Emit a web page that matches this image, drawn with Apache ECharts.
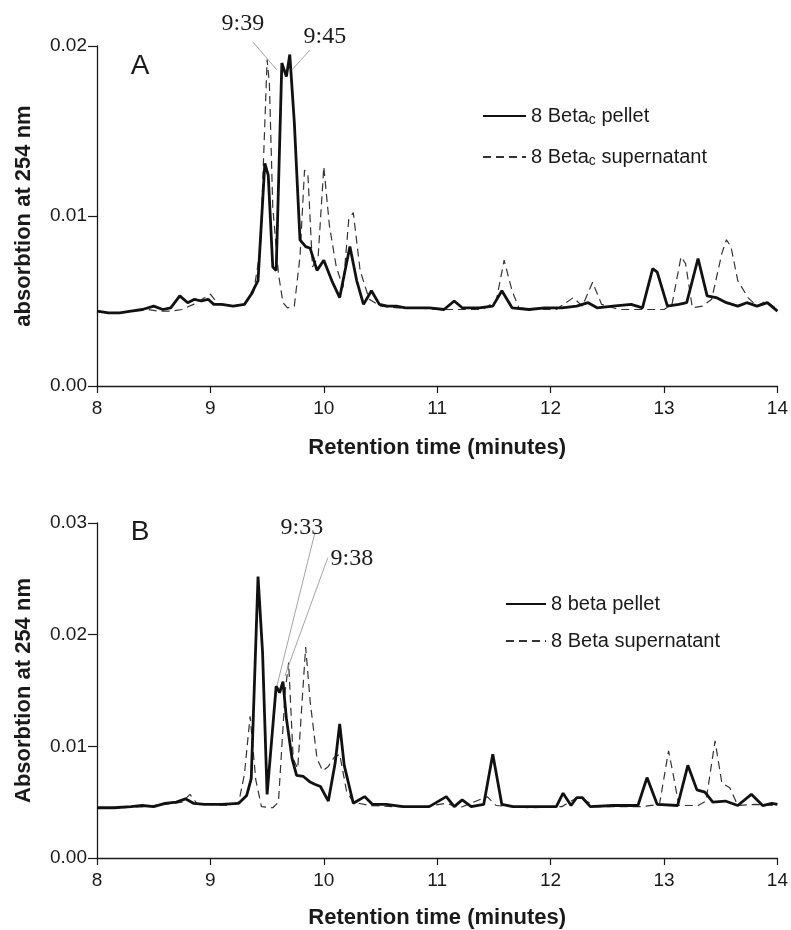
<!DOCTYPE html>
<html>
<head>
<meta charset="utf-8">
<script src="https://cdn.jsdelivr.net/npm/echarts@6/dist/echarts.min.js"></script>
<style>
html,body{margin:0;padding:0;background:#fff;}
#chart{width:791px;height:930px;}
</style>
</head>
<body>
<div id="chart"></div>
<script>
// ---- Data (retention time in minutes, absorbance) ----
const xTicks = [8, 9, 10, 11, 12, 13, 14];
const yTicksA = [0.00, 0.01, 0.02];
const yTicksB = [0.00, 0.01, 0.02, 0.03];

const aPelletT = [8.00,8.10,8.20,8.30,8.40,8.50,8.58,8.65,8.73,8.80,8.86,8.92,8.98,9.03,9.10,9.20,9.30,9.36,9.42,9.48,9.51,9.55,9.58,9.63,9.67,9.70,9.74,9.79,9.84,9.88,9.94,10.00,10.07,10.14,10.23,10.29,10.35,10.42,10.49,10.56,10.64,10.72,10.80,10.93,11.06,11.15,11.22,11.37,11.49,11.57,11.66,11.81,11.95,12.10,12.23,12.33,12.41,12.55,12.71,12.81,12.90,12.94,13.03,13.13,13.20,13.30,13.38,13.46,13.55,13.65,13.73,13.82,13.91,14.00];
const aPelletV = [0.0044,0.0043,0.0043,0.0044,0.0045,0.0047,0.0045,0.0046,0.0053,0.0049,0.0051,0.0050,0.0051,0.0048,0.0048,0.0047,0.0048,0.0054,0.0062,0.0131,0.0124,0.0070,0.0068,0.0190,0.0182,0.0195,0.0155,0.0086,0.0082,0.0081,0.0068,0.0074,0.0062,0.0052,0.0082,0.0062,0.0048,0.0056,0.0048,0.0047,0.0047,0.0046,0.0046,0.0046,0.0045,0.0050,0.0046,0.0046,0.0047,0.0056,0.0046,0.0045,0.0046,0.0046,0.0047,0.0049,0.0046,0.0047,0.0048,0.0046,0.0069,0.0067,0.0047,0.0048,0.0049,0.0075,0.0053,0.0052,0.0049,0.0047,0.0049,0.0047,0.0049,0.0044];

const aSuperT = [8.00,8.15,8.30,8.45,8.55,8.65,8.75,8.85,9.00,9.07,9.20,9.30,9.38,9.44,9.50,9.52,9.55,9.60,9.64,9.68,9.74,9.79,9.83,9.86,9.90,9.95,10.00,10.05,10.11,10.17,10.22,10.26,10.32,10.40,10.50,10.65,10.80,11.00,11.20,11.40,11.52,11.59,11.66,11.72,11.90,12.05,12.20,12.28,12.37,12.45,12.60,12.80,13.00,13.07,13.15,13.19,13.25,13.34,13.42,13.51,13.55,13.59,13.65,13.74,13.82,13.90,14.00];
const aSuperV = [0.0044,0.0043,0.0044,0.0045,0.0044,0.0044,0.0045,0.0048,0.0054,0.0048,0.0047,0.0048,0.0055,0.0080,0.0192,0.0178,0.0105,0.0066,0.0049,0.0046,0.0047,0.0076,0.0127,0.0124,0.0070,0.0076,0.0129,0.0094,0.0070,0.0058,0.0098,0.0102,0.0068,0.0051,0.0047,0.0046,0.0046,0.0045,0.0045,0.0045,0.0050,0.0074,0.0056,0.0046,0.0045,0.0045,0.0052,0.0047,0.0061,0.0048,0.0045,0.0045,0.0045,0.0048,0.0076,0.0072,0.0046,0.0047,0.0051,0.0078,0.0086,0.0082,0.0062,0.0052,0.0047,0.0050,0.0045];

const bPelletT = [8.00,8.15,8.30,8.40,8.50,8.60,8.70,8.78,8.85,8.95,9.10,9.25,9.32,9.36,9.42,9.46,9.50,9.58,9.61,9.64,9.67,9.72,9.76,9.82,9.88,9.92,9.97,10.04,10.10,10.14,10.18,10.26,10.36,10.43,10.55,10.70,10.93,11.08,11.15,11.22,11.30,11.41,11.49,11.57,11.67,12.05,12.11,12.18,12.23,12.28,12.35,12.55,12.77,12.85,12.94,13.12,13.21,13.29,13.36,13.43,13.54,13.65,13.77,13.87,13.95,14.00];
const bPelletV = [0.0045,0.0045,0.0046,0.0047,0.0046,0.0049,0.0050,0.0053,0.0049,0.0048,0.0048,0.0049,0.0056,0.0071,0.0252,0.0184,0.0057,0.0154,0.0148,0.0158,0.0125,0.0089,0.0074,0.0073,0.0068,0.0066,0.0064,0.0051,0.0085,0.0120,0.0083,0.0049,0.0055,0.0048,0.0048,0.0046,0.0046,0.0055,0.0046,0.0052,0.0046,0.0048,0.0093,0.0048,0.0046,0.0046,0.0058,0.0047,0.0054,0.0054,0.0046,0.0047,0.0047,0.0072,0.0048,0.0047,0.0083,0.0061,0.0059,0.0050,0.0051,0.0047,0.0057,0.0047,0.0049,0.0048];

const bSuperT = [8.00,8.20,8.40,8.60,8.75,8.82,8.88,9.00,9.15,9.25,9.30,9.35,9.40,9.45,9.55,9.60,9.63,9.66,9.69,9.73,9.77,9.84,9.88,9.94,9.99,10.04,10.09,10.14,10.20,10.26,10.40,10.60,10.90,11.08,11.20,11.44,11.52,11.80,12.10,12.23,12.28,12.40,12.80,12.96,13.04,13.09,13.13,13.30,13.37,13.45,13.51,13.58,13.65,13.80,14.00];
const bSuperV = [0.0045,0.0045,0.0046,0.0048,0.0050,0.0057,0.0049,0.0048,0.0047,0.0050,0.0075,0.0127,0.0070,0.0046,0.0045,0.0050,0.0100,0.0150,0.0175,0.0089,0.0080,0.0189,0.0140,0.0089,0.0078,0.0082,0.0090,0.0093,0.0060,0.0050,0.0047,0.0046,0.0046,0.0049,0.0045,0.0055,0.0047,0.0045,0.0046,0.0054,0.0053,0.0046,0.0046,0.0048,0.0096,0.0070,0.0047,0.0047,0.0051,0.0105,0.0067,0.0063,0.0047,0.0048,0.0047];

const seriesNames = ['8 Betac pellet', '8 Betac supernatant', '8 beta pellet', '8 Beta supernatant'];
const legendLabels = ['8 Beta{sub|c} pellet', '8 Beta{sub|c} supernatant', '8 beta pellet', '8 Beta supernatant'];
const panelLetters = ['A', 'B'];
const yAxisNames = ['absorbtion at 254 nm', 'Absorbtion at 254 nm'];
const xAxisName = 'Retention time (minutes)';

// annotation labels: [gridIndex, text, textX, textY, lineFromX, lineFromY, lineToX, lineToY] (data coords)
const annotations = [
  [0, '9:39', 9.286, 0.02130, 9.374, 0.02024, 9.586, 0.01859],
  [0, '9:45', 10.009, 0.02055, 9.877, 0.01976, 9.718, 0.01859],
  [1, '9:33', 9.806, 0.02955, 9.921, 0.02911, 9.586, 0.0154],
  [1, '9:38', 10.247, 0.02680, 10.035, 0.02688, 9.656, 0.0163]
];

function zip(t, v) { return t.map((x, i) => [x, v[i]]); }

const sans = "'Liberation Sans', Arial, sans-serif";
const narrow = "'Liberation Sans Narrow', 'Liberation Sans', Arial, sans-serif";

const chart = echarts.init(document.getElementById('chart'), null, { renderer: 'canvas' });

function xAxisDef(gi) {
  return {
    gridIndex: gi, type: 'value', min: 8, max: 14, interval: 1,
    name: xAxisName, nameLocation: 'middle', nameGap: gi === 0 ? 51 : 49,
    nameTextStyle: { fontFamily: narrow, fontWeight: 'bold', fontSize: 22, color: '#1a1a1a' },
    axisLine: { lineStyle: { color: '#1a1a1a', width: 1.3 } },
    axisTick: { inside: false, length: 7, lineStyle: { color: '#1a1a1a', width: 1.2 } },
    axisLabel: { fontFamily: narrow, fontSize: 19, color: '#1a1a1a', margin: 13,
                 formatter: v => String(v) },
    splitLine: { show: false }
  };
}
function yAxisDef(gi, max) {
  return {
    gridIndex: gi, type: 'value', min: 0, max: max, interval: 0.01,
    name: yAxisNames[gi], nameLocation: 'middle', nameGap: 62, nameRotate: 90,
    nameTextStyle: { fontFamily: sans, fontWeight: 'bold', fontSize: 22, color: '#1a1a1a' },
    axisLine: { show: true, lineStyle: { color: '#1a1a1a', width: 1.3 } },
    axisTick: { show: true, inside: false, length: 9, lineStyle: { color: '#1a1a1a', width: 1.2 } },
    axisLabel: { fontFamily: narrow, fontSize: 19, color: '#1a1a1a', margin: 10,
                 formatter: v => v.toFixed(2) },
    splitLine: { show: false }
  };
}
const solidStyle = { color: '#111', width: 2.8, type: 'solid' };
const dashStyle = { color: '#333', width: 1.2, type: [8, 5] };

function lineSeries(name, gi, data, style) {
  return {
    name: name, type: 'line', xAxisIndex: gi, yAxisIndex: gi,
    data: data, showSymbol: false, symbol: 'none', smooth: false,
    lineStyle: style, itemStyle: { color: style.color }, animation: false, z: style.width > 2 ? 3 : 2
  };
}

const legendRich = { sub: { fontFamily: sans, fontSize: 14, color: '#1a1a1a', verticalAlign: 'bottom', padding: [8, 0, 0, 0] } };
function legendDef(names, left, top, gap, w) {
  return {
    data: names, orient: 'vertical', left: left, top: top, itemGap: gap, padding: 0,
    itemWidth: w, itemHeight: 14,
    itemStyle: { opacity: 0 },
    formatter: n => legendLabels[seriesNames.indexOf(n)],
    textStyle: { fontFamily: sans, fontSize: 20, color: '#1a1a1a', rich: legendRich },
    selectedMode: false
  };
}

chart.setOption({
  backgroundColor: '#ffffff',
  animation: false,
  grid: [
    { left: 97, right: 13, top: 46, height: 340 },
    { left: 97, right: 13, top: 523, height: 337 }
  ],
  xAxis: [xAxisDef(0), xAxisDef(1)],
  yAxis: [yAxisDef(0, 0.02), yAxisDef(1, 0.03)],
  legend: [
    legendDef([seriesNames[0], seriesNames[1]], 482, 106, 20, 43),
    legendDef([seriesNames[2], seriesNames[3]], 505, 594, 17, 40)
  ],
  series: [
    lineSeries(seriesNames[1], 0, zip(aSuperT, aSuperV), dashStyle),
    lineSeries(seriesNames[0], 0, zip(aPelletT, aPelletV), solidStyle),
    lineSeries(seriesNames[3], 1, zip(bSuperT, bSuperV), dashStyle),
    lineSeries(seriesNames[2], 1, zip(bPelletT, bPelletV), solidStyle)
  ]
});

// annotations and panel letters placed via the axis scales
const graphics = [];
annotations.forEach(a => {
  const gi = a[0];
  const tp = chart.convertToPixel({ gridIndex: gi }, [a[2], a[3]]);
  const p1 = chart.convertToPixel({ gridIndex: gi }, [a[4], a[5]]);
  const p2 = chart.convertToPixel({ gridIndex: gi }, [a[6], a[7]]);
  graphics.push({ type: 'line', shape: { x1: p1[0], y1: p1[1], x2: p2[0], y2: p2[1] },
    style: { stroke: '#999', lineWidth: 0.9 }, z: 10, silent: true });
  graphics.push({ type: 'text', x: tp[0], y: tp[1], z: 10, silent: true,
    style: { text: a[1], fill: '#1a1a1a', font: "24px 'Liberation Serif', 'Times New Roman', serif",
             align: 'center', verticalAlign: 'middle' } });
});
const letterPos = [[8.38, 0.0188], [8.38, 0.0292]];
panelLetters.forEach((L, gi) => {
  const p = chart.convertToPixel({ gridIndex: gi }, letterPos[gi]);
  graphics.push({ type: 'text', x: p[0], y: p[1], z: 10, silent: true,
    style: { text: L, fill: '#1a1a1a', font: "28px 'Liberation Sans', Arial, sans-serif",
             align: 'center', verticalAlign: 'middle' } });
});
chart.setOption({ graphic: graphics });
</script>
</body>
</html>
